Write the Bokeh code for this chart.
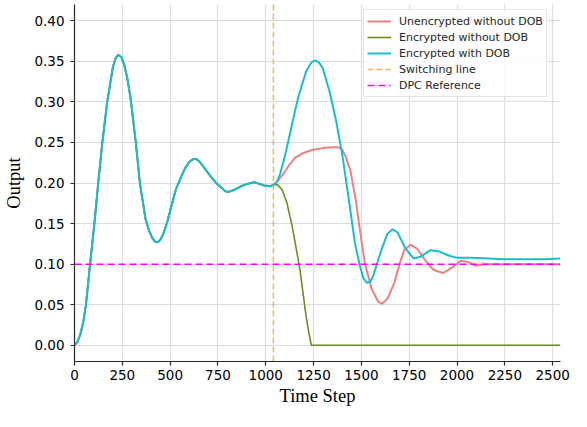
from bokeh.plotting import figure
from bokeh.models import Range1d, FixedTicker, PrintfTickFormatter, Legend, LegendItem
from bokeh.embed import file_html
from bokeh.resources import INLINE

# ---- data ----
x_ticks = [0, 250, 500, 750, 1000, 1250, 1500, 1750, 2000, 2250, 2500]
y_ticks = [0.00, 0.05, 0.10, 0.15, 0.20, 0.25, 0.30, 0.35, 0.40]

# common trajectory before switching
t_common = [0, 15, 30, 45, 60, 81, 104, 124, 146, 171, 200, 215, 229, 245, 260,
            277, 294, 320, 342, 371, 390, 405, 420, 434, 449, 464, 485, 507, 530,
            558, 580, 600, 617, 634, 651, 668, 693, 719, 745, 770, 787, 804, 830,
            855, 880, 906, 923, 940, 965, 991, 1025, 1042]
y_common = [0.000, 0.004, 0.013, 0.028, 0.050, 0.099, 0.150, 0.200, 0.251, 0.300,
            0.342, 0.354, 0.358, 0.355, 0.346, 0.328, 0.303, 0.251, 0.200, 0.156,
            0.141, 0.133, 0.128, 0.127, 0.130, 0.137, 0.152, 0.172, 0.192,
            0.208, 0.219, 0.226, 0.229, 0.230, 0.227, 0.222, 0.214, 0.206, 0.199,
            0.194, 0.190, 0.189, 0.191, 0.194, 0.197, 0.199, 0.200, 0.201, 0.199,
            0.197, 0.196, 0.198]

# Unencrypted without DOB (after switching)
t_unenc = [1060, 1085, 1119, 1153, 1196, 1247, 1297, 1349, 1380, 1400, 1417, 1442,
           1467, 1493, 1518, 1553, 1587, 1607, 1638, 1672, 1706, 1723, 1757, 1791,
           1833, 1876, 1927, 1969, 2020, 2054, 2097, 2148, 2250, 2350, 2450, 2540]
y_unenc = [0.202, 0.209, 0.221, 0.231, 0.237, 0.241, 0.243, 0.244, 0.244, 0.241,
           0.233, 0.216, 0.184, 0.141, 0.101, 0.070, 0.054, 0.051, 0.058, 0.077,
           0.105, 0.117, 0.124, 0.119, 0.105, 0.093, 0.089, 0.095, 0.104, 0.103,
           0.098, 0.100, 0.100, 0.100, 0.100, 0.100]

# Encrypted without DOB (after switching)
t_enc = [1060, 1085, 1110, 1136, 1161, 1179, 1196, 1212, 1225, 1238, 2540]
y_enc = [0.198, 0.192, 0.176, 0.149, 0.117, 0.093, 0.062, 0.034, 0.016, 0.000, 0.000]

# Encrypted with DOB (after switching)
t_dob = [1060, 1076, 1102, 1136, 1170, 1212, 1240, 1260, 1280, 1297, 1332, 1366,
         1400, 1434, 1467, 1493, 1510, 1527, 1545, 1561, 1604, 1635, 1663, 1689,
         1731, 1773, 1808, 1859, 1901, 1952, 1995, 2080, 2165, 2250, 2335, 2455, 2540]
y_dob = [0.202, 0.212, 0.235, 0.271, 0.306, 0.338, 0.349, 0.351, 0.348, 0.342,
         0.314, 0.279, 0.235, 0.180, 0.125, 0.097, 0.083, 0.077, 0.078, 0.085,
         0.117, 0.137, 0.143, 0.139, 0.119, 0.107, 0.109, 0.117, 0.116, 0.111,
         0.108, 0.108, 0.107, 0.106, 0.106, 0.106, 0.107]

switch_step = 1040
dpc_reference = 0.10
x_end = 2541
y_start, y_end = -0.02, 0.42

labels = ["Unencrypted without DOB", "Encrypted without DOB", "Encrypted with DOB",
          "Switching line", "DPC Reference"]
colors = ["#F08080", "#6B8E23", "#17BECF", "#DAA520", "#FF00FF"]

# ---- figure ----
p = figure(frame_width=486, frame_height=357, output_backend="svg",
           toolbar_location=None,
           x_range=Range1d(0, x_end), y_range=Range1d(y_start, y_end),
           min_border_left=74, min_border_right=11, min_border_top=4,
           min_border_bottom=50)
p.title.visible = False
p.outline_line_color = None
p.background_fill_color = "white"

r1 = p.line(t_common + t_unenc, y_common + y_unenc, line_color=colors[0], line_width=2)
r2 = p.line(t_common + t_enc, y_common + y_enc, line_color=colors[1], line_width=1.6)
r3 = p.line(t_common + t_dob, y_common + y_dob, line_color=colors[2], line_width=2)
r4 = p.line([switch_step, switch_step], [y_start, y_end], line_color=colors[3],
            line_width=1.5, line_dash="6 3", line_alpha=0.75)
r5 = p.line([0, x_end], [dpc_reference, dpc_reference], line_color=colors[4],
            line_width=1.5, line_dash="7 4")

# axes
p.xaxis.ticker = FixedTicker(ticks=x_ticks)
p.yaxis.ticker = FixedTicker(ticks=y_ticks)
p.yaxis.formatter = PrintfTickFormatter(format="%.2f")
for ax in (p.xaxis, p.yaxis):
    ax.axis_line_color = "#262626"
    ax.axis_line_width = 1.2
    ax.major_tick_line_color = "#262626"
    ax.major_tick_line_width = 1.2
    ax.major_tick_out = 4
    ax.major_tick_in = 0
    ax.minor_tick_line_color = None
    ax.major_label_text_font = "DejaVu Sans"
    ax.major_label_text_font_size = "13.5px"
    ax.major_label_text_color = "#000000"
    ax.axis_label_text_font = "Liberation Serif"
    ax.axis_label_text_font_size = "18.5px"
    ax.axis_label_text_font_style = "normal"
    ax.axis_label_text_color = "#000000"
p.xaxis.axis_label = "Time Step"
p.yaxis.axis_label = "Output"
p.xaxis.major_label_standoff = 4
p.yaxis.major_label_standoff = 6
p.xaxis.axis_label_standoff = 3
p.yaxis.axis_label_standoff = 7

p.xgrid.grid_line_color = "#dddddd"
p.ygrid.grid_line_color = "#dddddd"
p.xgrid.grid_line_width = 1.2
p.ygrid.grid_line_width = 1.2

legend = Legend(items=[LegendItem(label=l, renderers=[r]) for l, r in
                       zip(labels, [r1, r2, r3, r4, r5])],
                location=(289, 264), margin=0, padding=3, spacing=0,
                label_height=16, glyph_height=16, glyph_width=24,
                label_standoff=8, label_text_font="DejaVu Sans",
                label_text_font_size="11px", label_text_color="#262626",
                border_line_color="#cccccc", border_line_width=1,
                background_fill_alpha=0.85)
p.add_layout(legend, "center")

open("out.html", "w").write(file_html(p, INLINE))
